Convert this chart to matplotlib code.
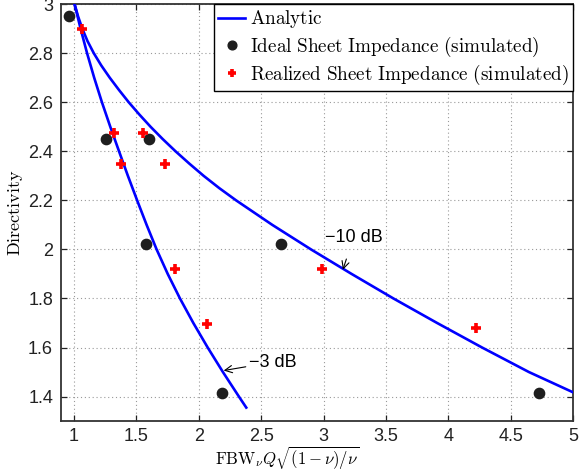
import matplotlib
matplotlib.use("Agg")
import matplotlib.pyplot as plt
from matplotlib.ticker import FuncFormatter, MultipleLocator

plt.rcParams['mathtext.fontset'] = 'cm'
plt.rcParams['font.family'] = ['Liberation Sans', 'DejaVu Sans']

# Analytic curves
curve10_y = [3.0, 2.95, 2.9, 2.85, 2.8, 2.75, 2.7, 2.65, 2.6, 2.55, 2.5, 2.45, 2.4, 2.35, 2.3,
             2.25, 2.2, 2.1, 2.0, 1.9, 1.8, 1.7, 1.6, 1.5, 1.417]
curve10_x = [1.006, 1.034, 1.068, 1.109, 1.16, 1.22, 1.288, 1.362, 1.44, 1.525, 1.615, 1.712, 1.815, 1.925, 2.04,
             2.165, 2.30, 2.59, 2.90, 3.225, 3.56, 3.91, 4.27, 4.645, 5.0]
curve3_y = [3.0, 2.9, 2.8, 2.7, 2.6, 2.5, 2.4, 2.3, 2.2, 2.1, 2.0, 1.9, 1.8, 1.7, 1.6, 1.5, 1.4, 1.355]
curve3_x = [1.006, 1.054, 1.106, 1.163, 1.225, 1.292, 1.362, 1.433, 1.507, 1.583, 1.663, 1.752, 1.85, 1.957, 2.072, 2.194, 2.322, 2.381]

# Simulated points
ideal_x = [0.96, 1.259, 1.598, 1.579, 2.662, 2.184, 4.728]
ideal_y = [2.953, 2.449, 2.449, 2.021, 2.021, 1.413, 1.413]
real_x = [1.062, 1.318, 1.552, 1.374, 1.734, 1.814, 2.067, 2.987, 4.222]
real_y = [2.898, 2.473, 2.476, 2.350, 2.350, 1.922, 1.697, 1.922, 1.679]

labels = ['Analytic', 'Ideal Sheet Impedance (simulated)', 'Realized Sheet Impedance (simulated)']

fig = plt.figure(figsize=(5.79, 4.71), dpi=100)
ax = fig.add_axes([0.106, 0.106, 0.884, 0.885])

ln, = ax.plot(curve10_x, curve10_y, color='#0000ff', lw=1.9, zorder=3)
ax.plot(curve3_x, curve3_y, color='#0000ff', lw=1.9, zorder=3)
sc1, = ax.plot(ideal_x, ideal_y, 'o', color='#1e1e1e', ms=7.4, ls='none', zorder=4)
sc2, = ax.plot(real_x, real_y, '+', color='#ff0000', ms=7.2, mew=2.6, ls='none', zorder=5)

ax.set_xlim(0.9, 5)
ax.set_ylim(1.3, 3)
ax.xaxis.set_major_locator(MultipleLocator(0.5))
ax.yaxis.set_major_locator(MultipleLocator(0.2))
fmt = FuncFormatter(lambda v, p: '%g' % round(v, 2))
ax.xaxis.set_major_formatter(fmt)
ax.yaxis.set_major_formatter(fmt)
ax.tick_params(direction='in', length=4, width=0.9, top=True, right=True,
               labelsize=13, colors='#222222', pad=6)
ax.tick_params(axis='x', pad=5)
ax.grid(True, color='#999999', ls=(0, (1, 2.5)), lw=0.8)
for s in ax.spines.values():
    s.set_linewidth(1.3)
    s.set_color('#333333')

ax.set_xlabel(r'$\mathrm{FBW}_{\nu}Q\sqrt{(1-\nu)/\nu}$', fontsize=12)
ax.xaxis.set_label_coords(0.441, -0.057)
ax.set_ylabel(r'$\mathrm{Directivity}$', fontsize=13, labelpad=2)

leg_labels = [r'$\mathrm{' + l.replace(' ', r'\ ') + '}$' for l in labels]
leg = ax.legend([ln, sc1, sc2], leg_labels, loc='upper right', borderaxespad=0,
                fontsize=13.8, fancybox=False, framealpha=1, edgecolor='black',
                handlelength=1.4, handletextpad=0.25, labelspacing=0.22,
                borderpad=0.22, markerscale=0.85)
leg.get_frame().set_linewidth(1.0)

ax.annotate('\u221210 dB', xy=(3.155, 1.917), xytext=(3.24, 2.05),
            fontsize=13, ha='center', va='center',
            arrowprops=dict(arrowstyle='->', color='black', lw=0.8,
                            shrinkA=8, shrinkB=0))
ax.annotate('\u22123 dB', xy=(2.2, 1.506), xytext=(2.59, 1.54),
            fontsize=13, ha='center', va='center',
            arrowprops=dict(arrowstyle='->', color='black', lw=0.8,
                            shrinkA=20, shrinkB=0))

fig.savefig('out.png', dpi=100)
